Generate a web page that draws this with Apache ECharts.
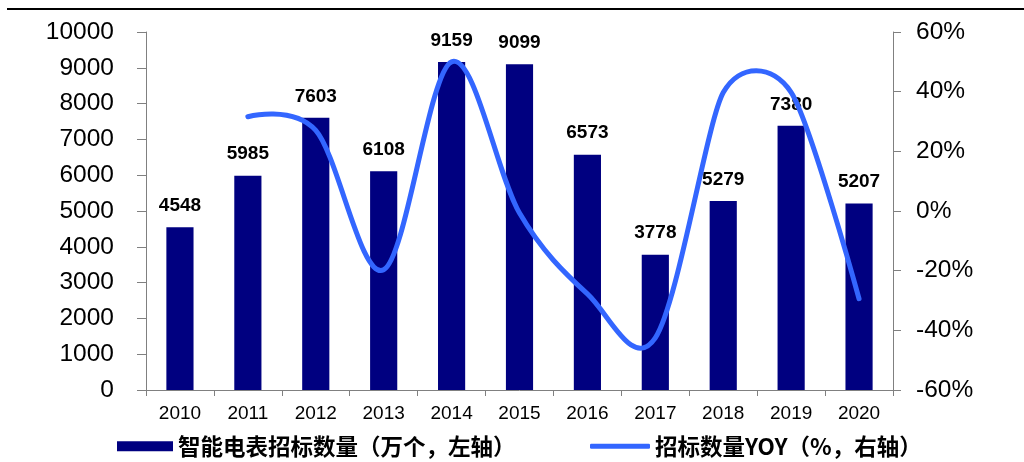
<!DOCTYPE html>
<html>
<head>
<meta charset="utf-8">
<script src="https://cdn.jsdelivr.net/npm/echarts@6/dist/echarts.min.js"></script>
<style>
  html, body { margin: 0; padding: 0; background: #fff; }
  #chart { width: 1024px; height: 462px; }
</style>
</head>
<body>
<div id="chart"></div>
<script>
// Annual smart-meter tender volume (10k units) and year-on-year change (%)
const years = ['2010', '2011', '2012', '2013', '2014', '2015', '2016', '2017', '2018', '2019', '2020'];
const tenderVolume = [4548, 5985, 7603, 6108, 9159, 9099, 6573, 3778, 5279, 7380, 5207];
const tenderYoy = [null, 31.6, 27.0, -19.7, 50.0, -0.7, -27.8, -42.5, 39.7, 39.8, -29.4];
const leftTicks = { min: 0, max: 10000, interval: 1000 };
const rightTicks = { min: -60, max: 60, interval: 20 };
const barName = '智能电表招标数量（万个，左轴）';
const lineName = '招标数量YOY（%，右轴）';

const latin = '"Liberation Sans", Arial, sans-serif';
const cjk = '"Noto Sans CJK SC", "Liberation Sans", sans-serif';
const axisGrey = '#808080';
const lineBlue = '#3366FF';

// Spreadsheet-style smoothing: Bezier control points along the neighbour
// chord, shortened next to short segments so the curve never loops.
function dist(a, b) { return Math.hypot(a[0] - b[0], a[1] - b[1]); }
function tangentFactor(p0, p1, p2) {
  const d01 = dist(p0, p1), d12 = dist(p1, p2), d02 = dist(p0, p2);
  if (d02 === 0) return 0;
  if (d01 / 6 < d12 / 2 && d12 / 6 < d01 / 2) return 1 / 6;
  if (d01 / 6 >= d12 / 2) return (d12 / 2) / d02;
  return (d01 / 2) / d02;
}
function smoothPath(pts) {
  const n = pts.length;
  const tan = pts.map((p, i) => {
    const a = pts[Math.max(i - 1, 0)], b = pts[Math.min(i + 1, n - 1)];
    const f = tangentFactor(a, p, b);
    return [(b[0] - a[0]) * f, (b[1] - a[1]) * f];
  });
  let d = 'M' + pts[0][0] + ' ' + pts[0][1];
  for (let i = 0; i < n - 1; i++) {
    const p = pts[i], q = pts[i + 1];
    d += ' C' + (p[0] + tan[i][0]) + ' ' + (p[1] + tan[i][1]) + ' ' +
         (q[0] - tan[i + 1][0]) + ' ' + (q[1] - tan[i + 1][1]) + ' ' + q[0] + ' ' + q[1];
  }
  return d;
}

const yoyData = years.map((y, i) => [i, tenderYoy[i]]).filter(d => d[1] !== null);

const chart = echarts.init(document.getElementById('chart'), null, { renderer: 'canvas' });
chart.setOption({
  animation: false,
  backgroundColor: '#ffffff',
  graphic: [{
    type: 'rect',
    shape: { x: 7, y: 8, width: 1017, height: 2 },
    style: { fill: '#000000' }
  }],
  grid: { left: 146, right: 131, top: 32, bottom: 72, containLabel: false },
  legend: [
    {
      data: [{ name: barName, icon: 'rect' }],
      left: 112, top: 430,
      itemWidth: 56, itemHeight: 10,
      textStyle: { fontFamily: cjk, fontWeight: 'bold', fontSize: 22.5, color: '#000' }
    },
    {
      data: [{ name: lineName, icon: 'roundRect' }],
      left: 585, top: 430,
      itemWidth: 60, itemHeight: 5,
      textStyle: { fontFamily: cjk, fontWeight: 'bold', fontSize: 22.5, color: '#000' }
    }
  ],
  xAxis: {
    type: 'category',
    data: years,
    boundaryGap: true,
    axisLine: { lineStyle: { color: axisGrey, width: 1 } },
    axisTick: { show: true, length: 6, interval: 0, lineStyle: { color: axisGrey } },
    axisLabel: { color: '#000', fontFamily: latin, fontSize: 19, margin: 14, interval: 0 }
  },
  yAxis: [
    {
      type: 'value',
      min: leftTicks.min, max: leftTicks.max, interval: leftTicks.interval,
      axisLine: { show: true, lineStyle: { color: axisGrey, width: 1 } },
      axisTick: { show: true, length: 9, lineStyle: { color: axisGrey } },
      splitLine: { show: false },
      axisLabel: { color: '#000', fontFamily: latin, fontSize: 24.5, margin: 32, formatter: v => String(v) }
    },
    {
      type: 'value',
      position: 'right',
      min: rightTicks.min, max: rightTicks.max, interval: rightTicks.interval,
      axisLine: { show: true, lineStyle: { color: axisGrey, width: 1 } },
      axisTick: { show: true, length: 8, lineStyle: { color: axisGrey } },
      splitLine: { show: false },
      axisLabel: { color: '#000', fontFamily: latin, fontSize: 24.5, margin: 23, formatter: '{value}%' }
    }
  ],
  series: [
    {
      name: barName,
      type: 'bar',
      data: tenderVolume,
      barWidth: '40%',
      itemStyle: { color: '#000080' },
      label: {
        show: true, position: 'top', distance: 12,
        color: '#000', fontFamily: latin, fontWeight: 'bold', fontSize: 19
      }
    },
    {
      name: lineName,
      type: 'custom',
      yAxisIndex: 1,
      data: yoyData,
      encode: { x: 0, y: 1 },
      itemStyle: { color: lineBlue },
      z: 3,
      renderItem: function (params, api) {
        if (params.dataIndex !== 0) return null;
        const pts = yoyData.map(d => api.coord([d[0], d[1]]));
        return {
          type: 'path',
          shape: { pathData: smoothPath(pts) },
          style: { fill: 'none', stroke: lineBlue, lineWidth: 5, lineCap: 'round', lineJoin: 'round' }
        };
      }
    }
  ]
});
</script>
</body>
</html>
